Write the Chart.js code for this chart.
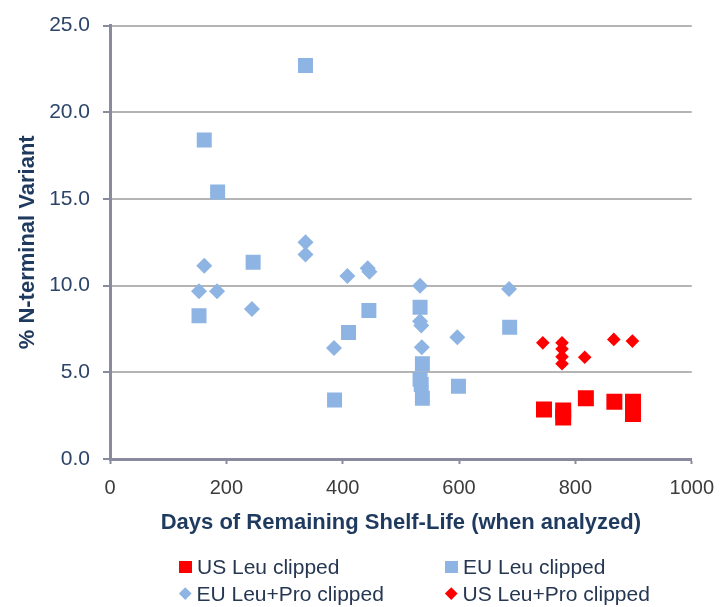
<!DOCTYPE html>
<html>
<head>
<meta charset="utf-8">
<title>N-terminal Variant vs Remaining Shelf-Life</title>
<script src="https://cdn.jsdelivr.net/npm/chart.js@4.4.0/dist/chart.umd.min.js"></script>
<style>
  body { margin: 0; background: #ffffff; font-family: "Liberation Sans", Arial, sans-serif; }
  #wrap { position: relative; width: 726px; height: 607px; }
  #legend {
    position: absolute; left: 179px; top: 553px;
    display: grid; grid-template-columns: 266px 266px;
  }
  .item { display: flex; align-items: center; height: 27px; font-size: 21px; color: #263752; white-space: nowrap; }
  .mark { width: 13px; height: 12px; margin-right: 5px; }
  .mark.dia { width: 8.5px; height: 8.5px; transform: rotate(45deg); margin: 0 7px 0 2px; }
</style>
</head>
<body>
<div id="wrap">
  <canvas id="myChart" width="726" height="607"></canvas>
  <div id="legend"></div>
</div>

<script>
// days of remaining shelf-life / % N-terminal variant
const usLeuDays = [746, 779, 779, 818, 867, 899, 899];
const usLeuVals = [2.85, 2.8, 2.4, 3.5, 3.3, 3.3, 2.6];

const euLeuDays = [336, 162, 185, 246, 153, 445, 410, 533, 537, 533, 535, 537, 386, 599, 687];
const euLeuVals = [22.7, 18.4, 15.4, 11.35, 8.27, 8.57, 7.3, 8.76, 5.5, 4.6, 4.3, 3.5, 3.4, 4.2, 7.6];

const euLeuProDays = [162, 153, 184, 244, 336, 336, 408, 443, 446, 385, 533, 533, 535, 536, 597, 686];
const euLeuProVals = [11.15, 9.67, 9.67, 8.65, 12.5, 11.8, 10.55, 11.0, 10.8, 6.4, 10.0, 7.95, 7.7, 6.45, 7.03, 9.8];

const usLeuProDays = [744, 777, 777, 777, 777, 816, 866, 898];
const usLeuProVals = [6.7, 6.7, 6.35, 5.9, 5.5, 5.87, 6.9, 6.8];

const xTicks = [0, 200, 400, 600, 800, 1000];
const yTicks = [0, 5, 10, 15, 20, 25];

const RED = '#ff0000';
const BLUE = '#8eb4e3';
const AXIS = '#8a8a9e';

function pts(xs, ys) {
  return xs.map((x, i) => ({ x: x, y: ys[i] }));
}

Chart.defaults.font.family = "'Liberation Sans', Arial, sans-serif";

const ctx = document.getElementById('myChart').getContext('2d');
const chart = new Chart(ctx, {
  type: 'scatter',
  data: {
    datasets: [
      { label: 'US Leu clipped', data: pts(usLeuDays, usLeuVals), backgroundColor: RED,
        pointStyle: 'rect', pointRadius: 11.3, borderWidth: 0 },
      { label: 'EU Leu clipped', data: pts(euLeuDays, euLeuVals), backgroundColor: BLUE,
        pointStyle: 'rect', pointRadius: 10.6, borderWidth: 0 },
      { label: 'EU Leu+Pro clipped', data: pts(euLeuProDays, euLeuProVals), backgroundColor: BLUE,
        pointStyle: 'rectRot', pointRadius: 8, borderWidth: 0 },
      { label: 'US Leu+Pro clipped', data: pts(usLeuProDays, usLeuProVals), backgroundColor: RED,
        pointStyle: 'rectRot', pointRadius: 6.8, borderWidth: 0 }
    ]
  },
  options: {
    responsive: false,
    animation: false,
    layout: { padding: { top: 20, right: 26, bottom: 71, left: 0 } },
    plugins: { legend: { display: false }, tooltip: { enabled: false } },
    scales: {
      x: {
        type: 'linear', min: 0, max: 1000,
        afterBuildTicks: s => { s.ticks = xTicks.map(v => ({ value: v })); },
        ticks: { color: '#3c3c3c', font: { size: 20 }, padding: 12, callback: v => String(v) },
        grid: { drawOnChartArea: false, tickLength: 5, tickColor: AXIS, tickWidth: 2 },
        border: { color: AXIS, width: 3 },
        title: { display: true, text: 'Days of Remaining Shelf-Life (when analyzed)',
                 color: '#1f3a5f', font: { size: 22, weight: 'bold' }, padding: 0 },
        afterFit: s => { s.height = 77; }
      },
      y: {
        min: 0, max: 25,
        afterBuildTicks: s => { s.ticks = yTicks.map(v => ({ value: v })); },
        ticks: { color: '#2b4468', font: { size: 21 }, padding: 13, callback: v => v.toFixed(1) },
        grid: { color: '#b4b4b4', lineWidth: 2, tickColor: AXIS, tickLength: 7, tickWidth: 2 },
        border: { color: AXIS, width: 3 },
        title: { display: true, text: '% N-terminal Variant',
                 color: '#1f3a5f', font: { size: 22, weight: 'bold' }, padding: { top: 15, bottom: 0 } },
        afterFit: s => { s.width = 110; }
      }
    }
  }
});

// html legend, two columns like the original
const legend = document.getElementById('legend');
chart.data.datasets.forEach(ds => {
  const item = document.createElement('div');
  item.className = 'item';
  const mark = document.createElement('span');
  mark.className = ds.pointStyle === 'rectRot' ? 'mark dia' : 'mark';
  mark.style.background = ds.backgroundColor;
  item.appendChild(mark);
  item.appendChild(document.createTextNode(ds.label));
  legend.appendChild(item);
});
</script>
</body>
</html>
